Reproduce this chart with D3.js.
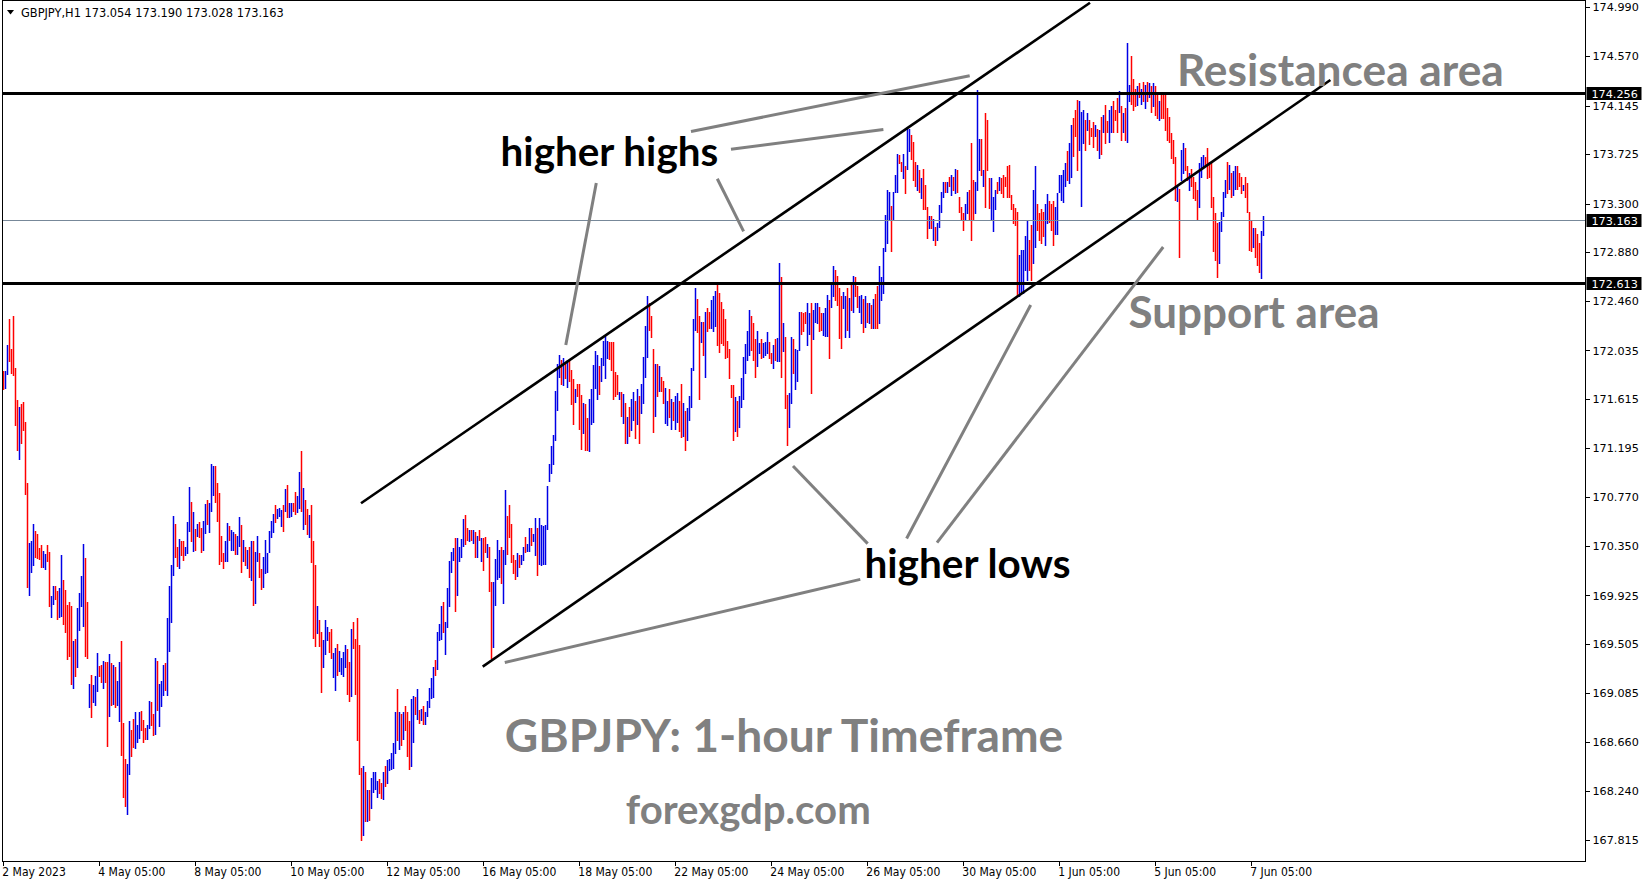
<!DOCTYPE html>
<html><head><meta charset="utf-8">
<script src="https://cdn.jsdelivr.net/npm/d3@7"></script>
<style>html,body{margin:0;padding:0;background:#fff;overflow:hidden}</style>
</head><body><svg id="c" width="1649" height="884"></svg>
<script>
// ---------- DATA ----------
const symbolHeader = "GBPJPY,H1  173.054 173.190 173.028 173.163";
const highs = [
171.86,171.86,172.08,172.31,172.05,172.33,171.88,171.61,171.55,171.57,
171.59,171.42,170.89,170.38,170.39,170.54,170.48,170.45,170.33,170.36,
170.31,170.28,170.36,170.30,169.92,170.01,170.01,169.96,169.99,170.27,
170.06,169.97,169.84,169.87,169.83,169.53,169.55,169.82,169.95,170.09,
170.37,170.25,169.87,169.16,169.24,169.15,169.23,169.43,169.32,169.33,
169.36,169.35,169.35,169.42,169.34,169.33,169.31,169.19,169.35,169.53,
168.83,168.52,168.47,168.84,168.77,168.86,168.92,168.81,168.92,168.93,
168.85,168.78,168.81,169.02,169.01,168.90,169.39,169.36,169.16,169.19,
169.33,169.34,169.73,170.01,170.19,170.61,170.54,170.34,170.41,170.39,
170.39,170.34,170.56,170.86,170.73,170.64,170.50,170.54,170.56,170.51,
170.57,170.71,170.75,170.72,171.06,171.04,171.04,170.89,170.81,170.44,
170.29,170.39,170.55,170.52,170.49,170.47,170.45,170.44,170.60,170.53,
170.40,170.34,170.32,170.34,170.39,170.39,170.30,170.44,170.29,
170.15,170.26,170.40,170.29,170.48,170.57,170.63,170.70,170.67,170.68,
170.66,170.70,170.84,170.88,170.72,170.72,170.72,170.82,170.78,170.99,
171.17,170.85,170.75,170.67,170.62,170.70,170.39,170.19,169.83,169.71,
169.61,169.54,169.71,169.65,169.61,169.64,169.43,169.47,169.51,169.45,
169.39,169.44,169.50,169.46,169.35,169.64,169.70,169.55,169.73,169.50,
168.44,168.46,168.40,168.25,168.25,168.35,168.40,168.40,168.33,168.34,
168.31,168.40,168.46,168.51,168.52,168.57,168.65,168.92,169.12,168.92,
168.90,168.92,168.97,168.92,168.84,169.03,169.06,169.05,169.12,168.94,
168.95,168.97,168.92,169.02,169.13,169.21,169.31,169.37,169.61,169.68,
169.83,169.87,169.70,169.99,170.22,170.30,170.33,170.42,170.42,170.34,
170.41,170.58,170.62,170.51,170.49,170.49,170.49,170.47,170.44,170.49,
170.42,170.42,170.43,170.37,170.34,170.04,170.04,170.24,170.40,170.32,
170.34,170.32,170.83,170.61,170.70,170.54,170.27,170.23,170.29,170.27,
170.27,170.34,170.43,170.37,170.51,170.51,170.45,170.59,170.51,170.59,
170.53,170.52,170.53,170.87,171.06,171.21,171.31,171.69,171.92,172.00,
171.95,171.97,171.93,171.95,171.95,171.87,171.79,171.70,171.75,171.75,
171.65,171.58,171.57,171.45,171.62,171.70,171.91,172.03,172.00,171.90,
171.97,172.12,172.17,172.12,172.11,172.11,172.11,171.85,171.82,171.68,
171.68,171.66,171.58,171.46,171.55,171.62,171.68,171.60,171.70,171.64,
171.75,171.98,172.25,172.50,172.44,172.33,172.05,171.92,171.92,171.90,
171.81,171.77,171.71,171.60,171.70,171.62,171.59,171.64,171.67,171.60,
171.75,171.58,171.51,171.54,171.64,171.88,172.31,172.57,172.48,172.33,
172.28,172.28,172.37,172.40,172.37,172.47,172.50,172.55,172.61,172.53,
172.45,172.39,172.31,172.12,172.05,171.74,171.74,171.63,171.60,171.64,
171.80,171.98,172.09,172.20,172.38,172.33,172.27,172.13,172.20,172.10,
172.13,172.10,172.11,172.19,172.11,172.01,172.08,172.13,172.14,172.79,
172.67,172.27,172.15,171.65,171.67,172.15,172.13,172.05,172.04,172.37,
172.37,172.36,172.37,172.44,172.36,172.44,172.38,172.44,172.44,172.41,
172.36,172.36,172.40,172.51,172.47,172.60,172.76,172.73,172.68,172.57,
172.50,172.54,172.50,172.57,172.49,172.60,172.68,172.67,172.59,172.50,
172.51,172.48,172.50,172.44,172.44,172.43,172.48,172.52,172.59,172.76,
172.67,172.92,173.20,173.42,173.40,173.28,173.40,173.55,173.73,173.72,
173.66,173.73,173.62,173.96,173.94,173.89,173.83,173.66,173.63,173.59,
173.52,173.60,173.46,173.27,173.19,173.19,173.17,173.10,173.13,173.29,
173.40,173.49,173.49,173.49,173.53,173.55,173.53,173.60,173.59,173.36,
173.27,173.22,173.30,173.40,173.42,173.82,173.50,173.49,174.28,173.86,
173.86,173.59,174.08,174.02,173.52,173.52,173.36,173.42,173.49,173.53,
173.52,173.55,173.53,173.62,173.63,173.37,173.30,173.26,173.23,172.86,
172.90,172.90,173.02,173.16,172.99,173.12,173.42,173.62,173.30,173.22,
173.25,173.23,173.30,173.38,173.32,173.30,173.32,173.27,173.39,173.55,
173.55,173.59,173.65,173.75,173.82,173.98,174.04,174.11,174.19,174.18,
174.09,174.11,174.02,174.08,174.02,173.95,174.00,173.98,173.94,173.93,
174.05,174.06,174.15,174.01,174.11,174.14,174.18,174.11,174.21,174.27,
174.14,174.08,174.12,174.68,174.32,174.57,174.37,174.29,174.31,174.34,
174.29,174.35,174.32,174.35,174.34,174.31,174.34,174.31,174.26,174.18,
174.24,174.25,174.24,174.12,174.05,173.91,173.85,173.70,173.45,173.43,
173.76,173.82,173.78,173.62,173.56,173.60,173.53,173.49,173.42,173.65,
173.70,173.72,173.70,173.78,173.66,173.65,173.36,173.22,173.13,173.14,
173.23,173.40,173.50,173.66,173.63,173.56,173.58,173.62,173.62,173.56,
173.53,173.46,173.53,173.48,173.23,173.15,173.09,173.09,173.04,172.96,
173.06,173.19];
const lows = [
171.70,171.71,171.83,171.94,171.84,171.82,171.39,171.18,171.10,171.24,
171.35,170.80,170.00,169.93,170.13,170.19,170.26,170.25,170.24,170.17,
170.17,170.15,170.22,169.83,169.74,169.85,169.89,169.72,169.74,169.75,
169.68,169.61,169.38,169.40,169.16,169.13,169.23,169.31,169.63,169.83,
169.66,169.40,169.39,168.96,168.88,169.01,168.98,169.10,169.23,169.18,
169.13,169.18,168.63,168.89,168.98,168.99,168.96,168.98,168.84,168.55,
168.19,168.11,168.04,168.39,168.54,168.62,168.61,168.66,168.70,168.77,
168.66,168.69,168.69,168.78,168.81,168.72,168.73,168.94,168.80,168.97,
169.07,169.11,169.07,169.45,169.70,170.10,170.26,170.18,170.16,170.27,
170.23,170.27,170.29,170.48,170.39,170.31,170.32,170.44,170.43,170.30,
170.32,170.46,170.54,170.47,170.65,170.79,170.73,170.57,170.20,170.22,
170.16,170.22,170.22,170.40,170.32,170.32,170.28,170.28,170.35,170.13,
170.22,170.19,170.16,170.08,170.06,169.84,169.86,170.22,170.08,
169.98,170.00,170.12,170.13,170.30,170.43,170.47,170.56,170.59,170.61,
170.52,170.48,170.65,170.60,170.60,170.61,170.65,170.63,170.64,170.68,
170.65,170.50,170.54,170.45,170.43,170.21,169.56,169.49,169.60,169.49,
169.09,169.31,169.42,169.54,169.44,169.39,169.22,169.11,169.24,169.27,
169.25,169.23,169.31,169.08,169.02,169.06,169.47,169.08,168.68,168.39,
167.82,167.86,167.98,167.98,167.99,168.09,168.23,168.26,168.19,168.22,
168.18,168.17,168.28,168.31,168.42,168.43,168.44,168.57,168.68,168.60,
168.64,168.69,168.77,168.54,168.43,168.46,168.66,168.90,168.86,168.83,
168.85,168.82,168.82,168.89,168.96,169.04,169.05,169.24,169.29,169.54,
169.55,169.61,169.42,169.65,169.83,170.13,170.23,169.79,169.93,170.22,
170.26,170.35,170.37,170.40,170.39,170.40,170.38,170.26,170.26,170.40,
170.22,170.14,170.30,170.26,169.96,169.39,169.48,169.84,170.07,170.08,
170.03,169.86,170.20,170.28,170.43,170.21,170.12,170.07,170.09,170.17,
170.20,170.23,170.30,170.31,170.31,170.36,170.39,170.27,170.10,170.20,
170.19,170.20,170.20,170.50,170.91,170.98,171.06,171.26,171.52,171.81,
171.75,171.74,171.80,171.72,171.77,171.57,171.40,171.59,171.64,171.36,
171.19,171.32,171.18,171.18,171.17,171.40,171.42,171.71,171.62,171.66,
171.77,171.91,171.80,171.97,171.96,171.87,171.62,171.64,171.66,171.62,
171.47,171.41,171.24,171.24,171.30,171.35,171.44,171.28,171.40,171.24,
171.50,171.58,171.81,171.98,172.21,172.15,171.33,171.47,171.64,171.69,
171.69,171.58,171.41,171.39,171.46,171.36,171.44,171.36,171.42,171.34,
171.29,171.30,171.18,171.26,171.44,171.55,171.87,172.21,172.19,171.62,
172.11,172.00,171.81,172.20,172.23,172.23,172.20,172.25,172.08,172.02,
172.10,172.08,171.97,171.98,171.80,171.63,171.26,171.34,171.30,171.38,
171.55,171.62,171.84,171.95,172.00,172.04,171.95,171.81,171.90,172.01,
171.97,171.98,172.00,172.01,171.97,171.93,171.88,171.95,171.94,171.94,
171.81,172.03,171.54,171.22,171.38,171.58,171.84,171.70,171.77,172.04,
172.18,172.20,172.27,172.08,172.18,171.67,172.13,172.28,172.27,172.20,
172.21,172.17,172.16,172.16,171.97,172.41,172.50,172.47,172.43,172.14,
172.06,172.40,172.15,172.21,172.15,172.38,172.37,172.50,172.41,172.37,
172.27,172.19,172.24,172.28,172.27,172.23,172.23,172.23,172.23,172.27,
172.47,172.53,172.89,172.96,173.16,172.89,173.16,173.40,173.40,173.65,
173.58,173.52,173.39,173.60,173.75,173.68,173.50,173.45,173.42,173.40,
173.35,173.25,173.25,173.00,173.09,173.09,172.99,172.94,172.99,173.10,
173.23,173.36,173.40,173.40,173.45,173.37,173.42,173.39,173.40,173.23,
173.16,173.07,173.16,173.22,173.16,172.99,173.16,173.22,173.42,173.59,
173.55,173.45,173.27,173.59,173.26,173.16,173.06,173.25,173.39,173.42,
173.39,173.36,173.45,173.36,173.36,173.25,173.13,173.12,172.50,172.50,
172.53,172.53,172.73,172.64,172.73,172.64,172.79,172.93,173.07,172.99,
172.96,173.02,172.94,173.13,173.14,173.07,172.94,173.04,173.04,173.40,
173.33,173.31,173.45,173.50,173.48,173.53,173.71,173.88,173.59,173.76,
173.28,173.82,173.76,173.93,173.81,173.88,173.79,173.88,173.76,173.69,
173.73,173.92,173.82,173.92,173.83,173.92,173.92,174.02,173.92,174.09,
173.85,173.92,173.85,173.83,174.18,174.16,174.11,174.14,174.15,174.22,
174.16,174.18,174.12,174.18,174.22,174.09,174.14,174.06,174.04,174.02,
174.04,174.04,173.93,173.85,173.83,173.69,173.65,173.33,173.32,172.84,
173.50,173.56,173.59,173.50,173.42,173.45,173.35,173.33,173.17,173.27,
173.53,173.62,173.62,173.52,173.53,173.27,172.89,172.81,172.67,172.79,
173.06,173.19,173.36,173.39,173.43,173.36,173.37,173.43,173.43,173.45,
173.39,173.42,173.36,173.23,172.90,172.89,172.93,172.84,172.77,172.71,
172.66,173.03];
// u = bullish bar (blue), d = bearish bar (red)
const dirs = [
"duudddddud","ddduuudddd","uudduudduu","ddddduduuu","udduduuudd","uddududuud",
"dduudduuud","dduudduduu","uduuuuddud","duuudududd","uuduuudddd","duuduuduud","udududuud",
"duuuuuuduu","ududuudduu","duddudddud","duuudduudu","uuuddudddd","dududuuuud",
"duduuuuudu","duddduudud","uduuuuuduu","uduuuuuduu","uuddududud","uddudduuuu",
"duudddddud","uuduuduudu","uuuuuuuuuu","dududddudd","dudduuuuud","uuuudddddu",
"dududuudud","uuuudddudu","dduududuud","duduuuuudd","ududduuudd","dddddddudu","uuuuuddduu",
"duuudduduu","dudduuduuu","ddduuduuud","duuuduuddd","duudududdu","ududududdu",
"uuuuuduuud","duduudddud","udddududuu","uududududd","dduuddduuu","duddduuudu",
"dddddddddu","uuuudduudd","dduuddduuu","uuuduudddu","uududddudu","dudduudddu",
"duduudddud","ududududdu","ddddddddud","uudduddddu","uudddddddu","uuududuudd","dudddduddd","uu"
].join("");

const priceTicks = [174.990,174.570,174.145,173.725,173.300,172.880,172.460,172.035,171.615,
  171.195,170.770,170.350,169.925,169.505,169.085,168.660,168.240,167.815];
const timeTickIndex = [0,48,96,144,192,240,288,336,384,432,480,528,576,624];
const timeTickLabels = ["2 May 2023","4 May 05:00","8 May 05:00","10 May 05:00","12 May 05:00",
  "16 May 05:00","18 May 05:00","22 May 05:00","24 May 05:00","26 May 05:00","30 May 05:00",
  "1 Jun 05:00","5 Jun 05:00","7 Jun 05:00"];

const resistanceLevel = 174.256;
const supportLevel = 172.613;
const bidLevel = 173.163;

// trend channel lines: [barIndex, price]
const channelUpper = [[178.85,170.719],[543.35,175.03]];
const channelLower = [[239.7,169.312],[663.55,174.365]];
// gray annotation pointers: [[barIndex, price],[barIndex, price]]
const pointers = [
  [[343.85,173.921],[483.2,174.402]],
  [[363.85,173.768],[440.05,173.939]],
  [[357.0,173.514],[370.15,173.061]],
  [[296.5,173.478],[281.25,172.082]],
  [[428.5,170.063],[250.75,169.347]],
  [[432.2,170.371],[394.85,171.040]],
  [[451.65,170.416],[513.7,172.427]],
  [[466.85,170.380],[579.95,172.926]]
];

// ---------- DRAW ----------
const W = 1649, H = 884;
const plotL = 2.5, plotR = 1585.5, plotT = 0.5, plotB = 861.5;
const svg = d3.select("#c");
svg.append("rect").attr("width",W).attr("height",H).attr("fill","#fff");

const x = d3.scaleLinear().domain([0,630]).range([3.3,1263.3]);
const y = d3.scaleLinear().domain([167.815,174.990]).range([840.4,7.4]);

const axisFont = "'DejaVu Sans',sans-serif";
const condFont = "'DejaVu Sans Condensed','DejaVu Sans',sans-serif";

// bars
const n = Math.min(highs.length, lows.length, dirs.length);
const bars = d3.range(n).map(i => ({i, h:highs[i], l:lows[i], up: dirs[i]==="u"}));
svg.append("g")
  .selectAll("line").data(bars).join("line")
  .attr("x1", d => Math.round(x(d.i))+0.5).attr("x2", d => Math.round(x(d.i))+0.5)
  .attr("y1", d => Math.round(y(d.h))).attr("y2", d => Math.round(y(d.l))+1)
  .attr("stroke", d => d.up ? "#0000e6" : "#ff0000").attr("stroke-width",1.5);

// bid line
svg.append("line").attr("x1",plotL).attr("x2",plotR)
  .attr("y1",Math.round(y(bidLevel))+0.5).attr("y2",Math.round(y(bidLevel))+0.5)
  .attr("stroke","#778899").attr("stroke-width",1).attr("shape-rendering","crispEdges");

// support / resistance
[resistanceLevel, supportLevel].forEach(v => {
  const yy = Math.round(y(v)) + 0.5;
  svg.append("line").attr("x1",plotL).attr("x2",plotR)
    .attr("y1",yy).attr("y2",yy).attr("stroke","#000").attr("stroke-width",3);
});

// channel
[channelUpper, channelLower].forEach(c => {
  svg.append("line").attr("x1",x(c[0][0])).attr("y1",y(c[0][1]))
    .attr("x2",x(c[1][0])).attr("y2",y(c[1][1]))
    .attr("stroke","#000").attr("stroke-width",2.6);
});

// pointers
svg.append("g").selectAll("line").data(pointers).join("line")
  .attr("x1",d=>x(d[0][0])).attr("y1",d=>y(d[0][1]))
  .attr("x2",d=>x(d[1][0])).attr("y2",d=>y(d[1][1]))
  .attr("stroke","#808080").attr("stroke-width",3);

// frame
svg.append("rect").attr("x",plotL).attr("y",plotT).attr("width",plotR-plotL).attr("height",plotB-plotT)
  .attr("fill","none").attr("stroke","#000").attr("stroke-width",1).attr("shape-rendering","crispEdges");

// right axis
const ya = svg.append("g").attr("transform",`translate(${plotR},0)`)
  .call(d3.axisRight(y).tickValues(priceTicks).tickFormat(d3.format(".3f")).tickSize(4).tickPadding(3));
ya.select(".domain").remove();
ya.selectAll("line").attr("stroke","#000").attr("shape-rendering","crispEdges");
ya.selectAll("text").attr("font-family",axisFont).attr("font-size","11.2px").attr("fill","#000");

// price boxes
[resistanceLevel, bidLevel, supportLevel].forEach(v => {
  const g = svg.append("g");
  g.append("rect").attr("x",plotR+1).attr("y",Math.round(y(v))-6).attr("width",55).attr("height",13).attr("fill","#000");
  g.append("text").attr("x",plotR+6).attr("y",Math.round(y(v))+4.5).attr("fill","#fff")
    .attr("font-family",axisFont).attr("font-size","11.2px").text(v.toFixed(3));
});

// bottom axis
const xa = svg.append("g").attr("transform",`translate(0,${plotB})`)
  .call(d3.axisBottom(x).tickValues(timeTickIndex).tickFormat((d,i)=>timeTickLabels[i]).tickSize(4).tickPadding(2));
xa.select(".domain").remove();
xa.selectAll(".tick line").attr("stroke","#000").attr("shape-rendering","crispEdges");
xa.selectAll("text").attr("text-anchor","start").attr("dx","-1.5").attr("font-family",condFont)
  .attr("font-size","12px").attr("fill","#000");

// header
svg.append("path").attr("d","M7,10 L14,10 L10.5,14.5 Z").attr("fill","#000");
svg.append("text").attr("x",21).attr("y",16.5).attr("font-family",axisFont).attr("font-size","11.4px")
  .attr("fill","#000").text(symbolHeader);

// annotation texts, fit to measured widths
const annFont = "Lato, 'Open Sans', sans-serif";
const texts = [
  {t:"higher highs", x:500.6, w:217.7, y:166, c:"#000"},
  {t:"higher lows", x:864.5, w:206, y:578, c:"#000"},
  {t:"Resistancea area", x:1176.9, w:327, y:85.5, c:"#808080"},
  {t:"Support area", x:1128.5, w:251, y:328, c:"#808080"},
  {t:"GBPJPY: 1-hour Timeframe", x:504.8, w:558.5, y:752, c:"#808080"},
  {t:"forexgdp.com", x:625.8, w:245, y:824, c:"#808080"}
];
texts.forEach(d => {
  const el = svg.append("text").attr("x",d.x).attr("y",d.y).attr("fill",d.c)
    .attr("font-family",annFont).attr("font-weight","bold").attr("font-size","40px").text(d.t);
  const w = el.node().getComputedTextLength();
  el.attr("font-size", (40*d.w/w).toFixed(2)+"px");
});
</script>
</body></html>
